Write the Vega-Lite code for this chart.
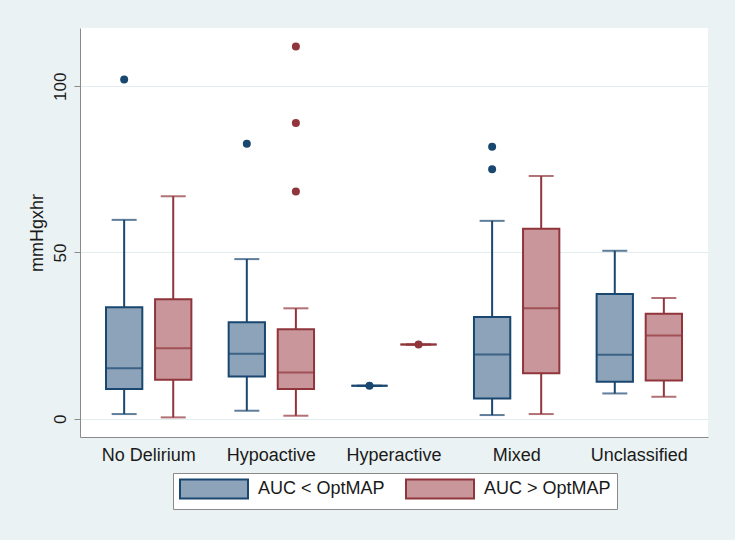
{
  "$schema": "https://vega.github.io/schema/vega-lite/v6.json",
  "width": 628,
  "height": 409,
  "autosize": {"type": "none"},
  "padding": {"left": 80, "top": 28, "right": 27, "bottom": 103},
  "background": "#EAF2F3",
  "datasets": {
    "boxes": [
      {"cat": "No Delirium", "grp": "AUC < OptMAP", "low": 1.4, "q1": 8.9, "med": 15.2, "q3": 33.5, "high": 59.8},
      {"cat": "No Delirium", "grp": "AUC > OptMAP", "low": 0.4, "q1": 11.7, "med": 21.2, "q3": 35.9, "high": 66.9},
      {"cat": "Hypoactive", "grp": "AUC < OptMAP", "low": 2.4, "q1": 12.7, "med": 19.5, "q3": 29.0, "high": 48.0},
      {"cat": "Hypoactive", "grp": "AUC > OptMAP", "low": 0.9, "q1": 8.9, "med": 13.9, "q3": 26.9, "high": 33.2},
      {"cat": "Hyperactive", "grp": "AUC < OptMAP", "low": 9.9, "q1": 9.9, "med": 9.9, "q3": 9.9, "high": 9.9},
      {"cat": "Hyperactive", "grp": "AUC > OptMAP", "low": 22.3, "q1": 22.3, "med": 22.3, "q3": 22.3, "high": 22.3},
      {"cat": "Mixed", "grp": "AUC < OptMAP", "low": 1.1, "q1": 6.1, "med": 19.3, "q3": 30.6, "high": 59.5},
      {"cat": "Mixed", "grp": "AUC > OptMAP", "low": 1.4, "q1": 13.7, "med": 33.2, "q3": 57.1, "high": 73.0},
      {"cat": "Unclassified", "grp": "AUC < OptMAP", "low": 7.6, "q1": 11.1, "med": 19.2, "q3": 37.5, "high": 50.5},
      {"cat": "Unclassified", "grp": "AUC > OptMAP", "low": 6.6, "q1": 11.5, "med": 25.0, "q3": 31.6, "high": 36.3}
    ],
    "outliers": [
      {"cat": "No Delirium", "grp": "AUC < OptMAP", "v": 102.0},
      {"cat": "Hypoactive", "grp": "AUC < OptMAP", "v": 82.7},
      {"cat": "Hypoactive", "grp": "AUC > OptMAP", "v": 111.9},
      {"cat": "Hypoactive", "grp": "AUC > OptMAP", "v": 88.9},
      {"cat": "Hypoactive", "grp": "AUC > OptMAP", "v": 68.3},
      {"cat": "Hyperactive", "grp": "AUC < OptMAP", "v": 9.9},
      {"cat": "Hyperactive", "grp": "AUC > OptMAP", "v": 22.3},
      {"cat": "Mixed", "grp": "AUC < OptMAP", "v": 81.8},
      {"cat": "Mixed", "grp": "AUC < OptMAP", "v": 75.0}
    ]
  },
  "encoding": {
    "x": {
      "field": "cat", "type": "nominal",
      "sort": ["No Delirium", "Hypoactive", "Hyperactive", "Mixed", "Unclassified"],
      "scale": {"paddingInner": 0, "paddingOuter": 0.06},
      "axis": {"title": null, "labelAngle": 0, "ticks": false, "labelPadding": 9, "labelFontSize": 18, "labelColor": "#1a1a1a", "domainColor": "#8a8a8a", "grid": false}
    },
    "xOffset": {
      "field": "grp", "type": "nominal",
      "scale": {"domain": ["AUC < OptMAP", "AUC > OptMAP"], "paddingInner": 0.26, "paddingOuter": 0.38}
    }
  },
  "layer": [
    {
      "data": {"name": "boxes"},
      "mark": {"type": "rule", "strokeWidth": 2},
      "encoding": {
        "y": {"field": "low", "type": "quantitative",
          "scale": {"domain": [-5.5, 117.5], "nice": false, "zero": false},
          "axis": {"title": "mmHgxhr", "values": [0, 50, 100], "labelAngle": -90, "labelAlign": "center", "labelBaseline": "bottom", "labelPadding": 5, "labelFontSize": 17, "labelColor": "#1a1a1a", "tickColor": "#8a8a8a", "tickSize": 6, "domainColor": "#8a8a8a", "grid": true, "gridColor": "#E3EDEF", "gridWidth": 1, "titleFontSize": 18, "titleFontWeight": "normal", "titleColor": "#1a1a1a", "titlePadding": 5}},
        "y2": {"field": "high"},
        "stroke": {"condition": {"test": "datum.grp === 'AUC < OptMAP'", "value": "#1A476F"}, "value": "#90353B"}
      }
    },
    {
      "data": {"name": "boxes"},
      "mark": {"type": "bar", "strokeWidth": 2, "opacity": 1},
      "encoding": {
        "y": {"field": "q1", "type": "quantitative"},
        "y2": {"field": "q3"},
        "fill": {"field": "grp", "type": "nominal", "scale": {"domain": ["AUC < OptMAP", "AUC > OptMAP"], "range": ["#8CA3BA", "#C9979B"]},
          "legend": {"title": null, "orient": "none", "legendX": 93, "legendY": 445, "direction": "horizontal",
            "symbolType": "M-1,-1.12H7V1.12H-1Z", "symbolSize": 289, "symbolStrokeWidth": 2,
            "labelFontSize": 18, "labelColor": "#1a1a1a", "labelOffset": 60, "columnPadding": 17,
            "padding": 6, "strokeColor": "#8a8a8a", "fillColor": "white", "labelLimit": 300}},
        "stroke": {"field": "grp", "type": "nominal", "scale": {"domain": ["AUC < OptMAP", "AUC > OptMAP"], "range": ["#1A476F", "#90353B"]},
          "legend": {"title": null, "orient": "none", "legendX": 93, "legendY": 445, "direction": "horizontal",
            "symbolType": "M-1,-1.12H7V1.12H-1Z", "symbolSize": 289, "symbolStrokeWidth": 2,
            "labelFontSize": 18, "labelColor": "#1a1a1a", "labelOffset": 60, "columnPadding": 17,
            "padding": 6, "strokeColor": "#8a8a8a", "fillColor": "white", "labelLimit": 300}}
      }
    },
    {
      "data": {"name": "boxes"},
      "mark": {"type": "tick", "size": 36, "thickness": 2},
      "encoding": {
        "y": {"field": "med", "type": "quantitative"},
        "fill": {"condition": {"test": "datum.grp === 'AUC < OptMAP'", "value": "#1A476F"}, "value": "#90353B"}
      }
    },
    {
      "data": {"name": "boxes"},
      "mark": {"type": "tick", "size": 25, "thickness": 2},
      "encoding": {
        "y": {"field": "low", "type": "quantitative"},
        "fill": {"condition": {"test": "datum.grp === 'AUC < OptMAP'", "value": "#1A476F"}, "value": "#90353B"}
      }
    },
    {
      "data": {"name": "boxes"},
      "mark": {"type": "tick", "size": 25, "thickness": 2},
      "encoding": {
        "y": {"field": "high", "type": "quantitative"},
        "fill": {"condition": {"test": "datum.grp === 'AUC < OptMAP'", "value": "#1A476F"}, "value": "#90353B"}
      }
    },
    {
      "data": {"name": "outliers"},
      "mark": {"type": "circle", "size": 64, "opacity": 1},
      "encoding": {
        "y": {"field": "v", "type": "quantitative"},
        "fill": {"condition": {"test": "datum.grp === 'AUC < OptMAP'", "value": "#1A476F"}, "value": "#90353B"}
      }
    }
  ],
  "config": {
    "font": "Liberation Sans",
    "view": {"fill": "white", "stroke": null},
    "axis": {"labelFont": "Liberation Sans", "titleFont": "Liberation Sans"},
    "legend": {"labelFont": "Liberation Sans"}
  }
}
